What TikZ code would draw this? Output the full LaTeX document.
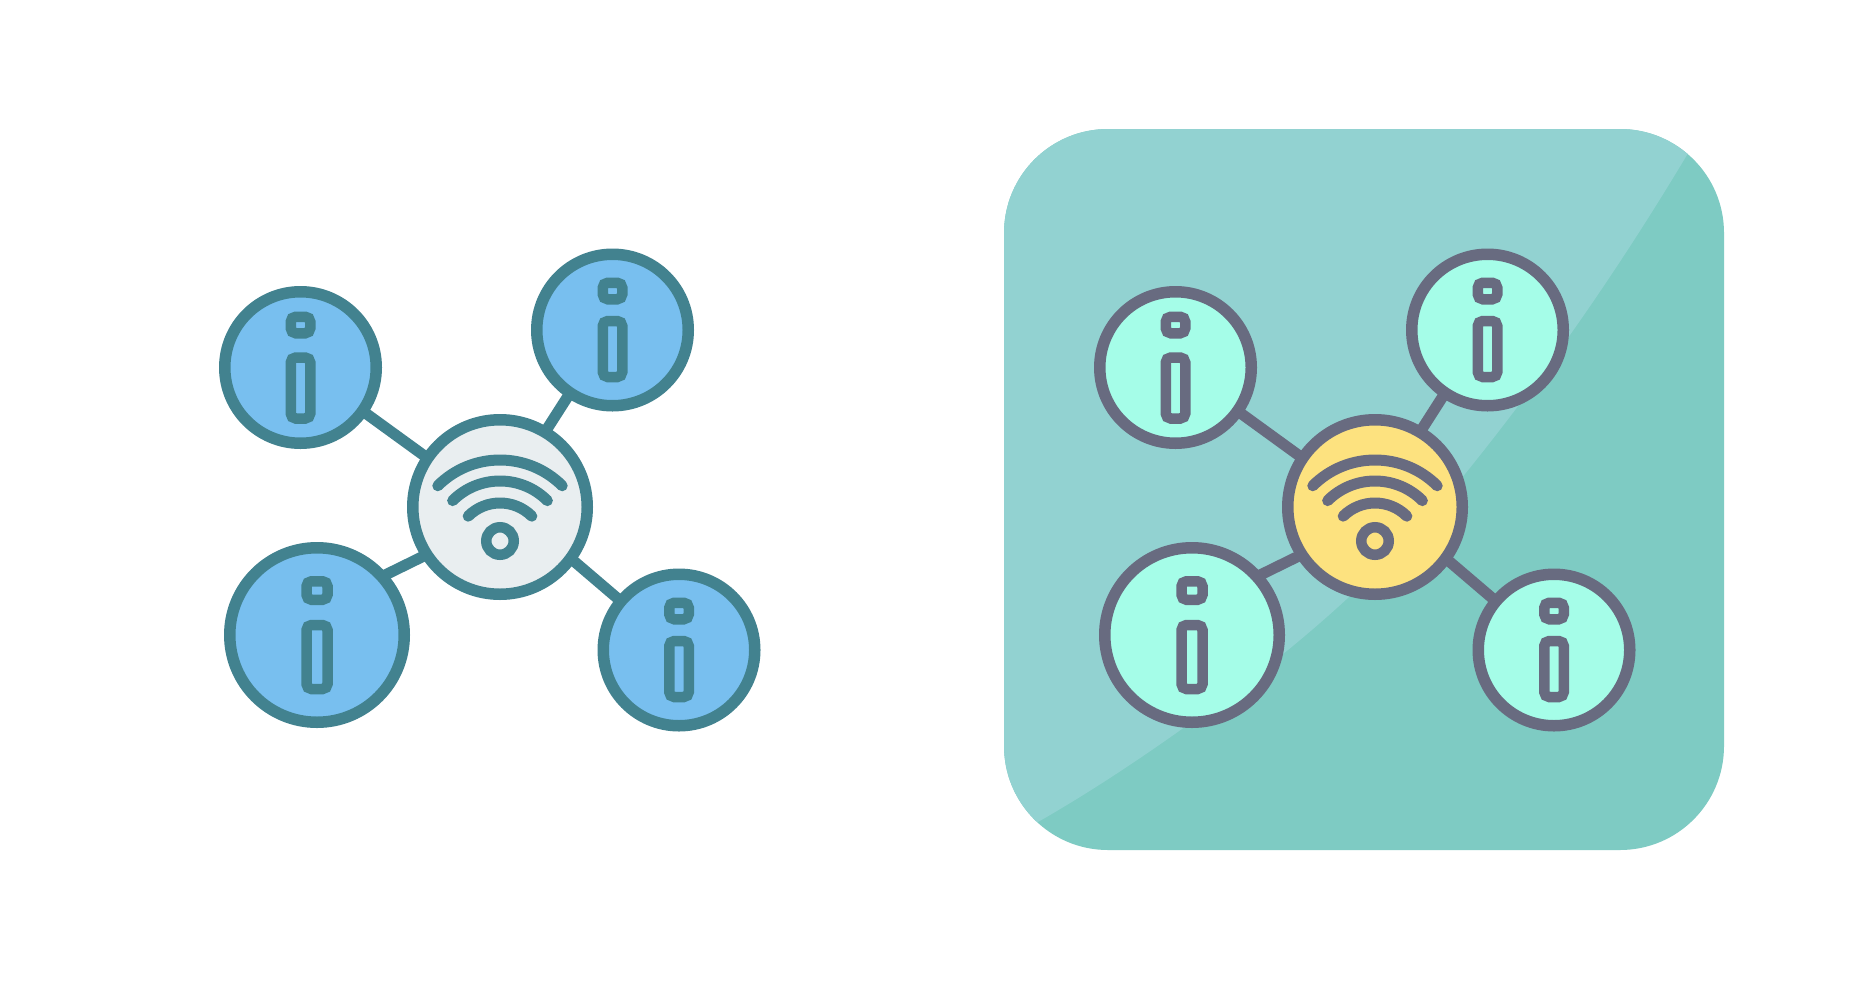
\documentclass[tikz,border=0pt]{standalone}
\definecolor{lstroke}{HTML}{42828F}
\definecolor{lfill}{HTML}{78BFEF}
\definecolor{lhub}{HTML}{E9EEF0}
\definecolor{rstroke}{HTML}{686B80}
\definecolor{rfill}{HTML}{A5FDE8}
\definecolor{rhub}{HTML}{FDE27F}
\definecolor{panellight}{HTML}{92D2D1}
\definecolor{paneldark}{HTML}{7ECBC3}
\tikzset{
  ball/.style={circle,draw=ink,fill=ballfill,line width=11.5pt,inner sep=0pt,outer sep=0pt,minimum size=151.5pt},
  bigball/.style={ball,minimum size=174.5pt},
  hubball/.style={ball,fill=hubfill,minimum size=174.5pt},
  imark/.style={rectangle,draw=ink,line width=10.5pt,rounded corners=5pt,inner sep=0pt,outer sep=0pt,minimum width=19.5pt},
  link/.style={draw=ink,line width=11pt},
  wave/.style={draw=ink,line width=11pt,line cap=round},
  ring/.style={circle,draw=ink,line width=10.5pt,inner sep=0pt,outer sep=0pt,minimum size=27.5pt}
}
\newcommand{\iconset}[1]{%
  \node[hubball] (#1hub) at (500,-507) {};
  \node[ball] (#1tl) at (300.5,-367.5) {};
  \node[ball] (#1tr) at (612.5,-330) {};
  \node[bigball] (#1bl) at (317,-635) {};
  \node[ball] (#1br) at (679,-650) {};
  \draw[link] (#1hub.146.4) -- (#1tl.-35.2);
  \draw[link] (#1hub.59) -- (#1tr.236.7);
  \draw[link] (#1hub.213.7) -- (#1bl.42);
  \draw[link] (#1hub.-36) -- (#1br.140);
  \node[imark,minimum height=16.5pt] (#1tldot) at (300.5,-325) {};
  \node[imark,minimum height=61pt] (#1tlbody) at (300.5,-388) {};
  \node[imark,minimum height=16.5pt] (#1trdot) at (612.5,-291) {};
  \node[imark,minimum height=56pt] (#1trbody) at (612.5,-349) {};
  \node[imark,minimum height=18.5pt,minimum width=21pt] (#1bldot) at (317,-590.5) {};
  \node[imark,minimum height=64pt,minimum width=21pt] (#1blbody) at (317,-657) {};
  \node[imark,minimum height=16.5pt] (#1brdot) at (679,-611) {};
  \node[imark,minimum height=56pt] (#1brbody) at (679,-669) {};
  \node[ring] (#1ring) at (500,-541) {};
  \coordinate (#1wave) at (500,-548);
  \draw[wave] ([shift={(135:88pt)}]#1wave) arc[start angle=135,end angle=45,radius=88pt];
  \draw[wave] ([shift={(135:67pt)}]#1wave) arc[start angle=135,end angle=45,radius=67pt];
  \draw[wave] ([shift={(135:45pt)}]#1wave) arc[start angle=135,end angle=45,radius=45pt];
}
\begin{document}
\begin{tikzpicture}[x=1pt,y=1pt]
\useasboundingbox (0,0) rectangle (1854,-980);
\fill[white] (0,0) rectangle (1854,-980);
% panel
\fill[paneldark,rounded corners=104pt] (1004,-129) rectangle (1724,-850);
\begin{scope}
  \clip[rounded corners=104pt] (1004,-129) rectangle (1724,-850);
  \fill[panellight] (1000,-100) -- (1720,-100)
    -- (1700,-133)
    .. controls (1640,-235) and (1565,-350) .. (1465,-474)
    .. controls (1405,-545) and (1355,-595) .. (1288,-650)
    .. controls (1200,-718) and (1120,-775) .. (1038,-822)
    -- (990,-850) -- cycle;
\end{scope}
\begin{scope}
  \colorlet{ink}{lstroke}\colorlet{ballfill}{lfill}\colorlet{hubfill}{lhub}
  \iconset{L}
\end{scope}
\begin{scope}[xshift=875pt]
  \colorlet{ink}{rstroke}\colorlet{ballfill}{rfill}\colorlet{hubfill}{rhub}
  \iconset{R}
\end{scope}
\end{tikzpicture}
\end{document}
